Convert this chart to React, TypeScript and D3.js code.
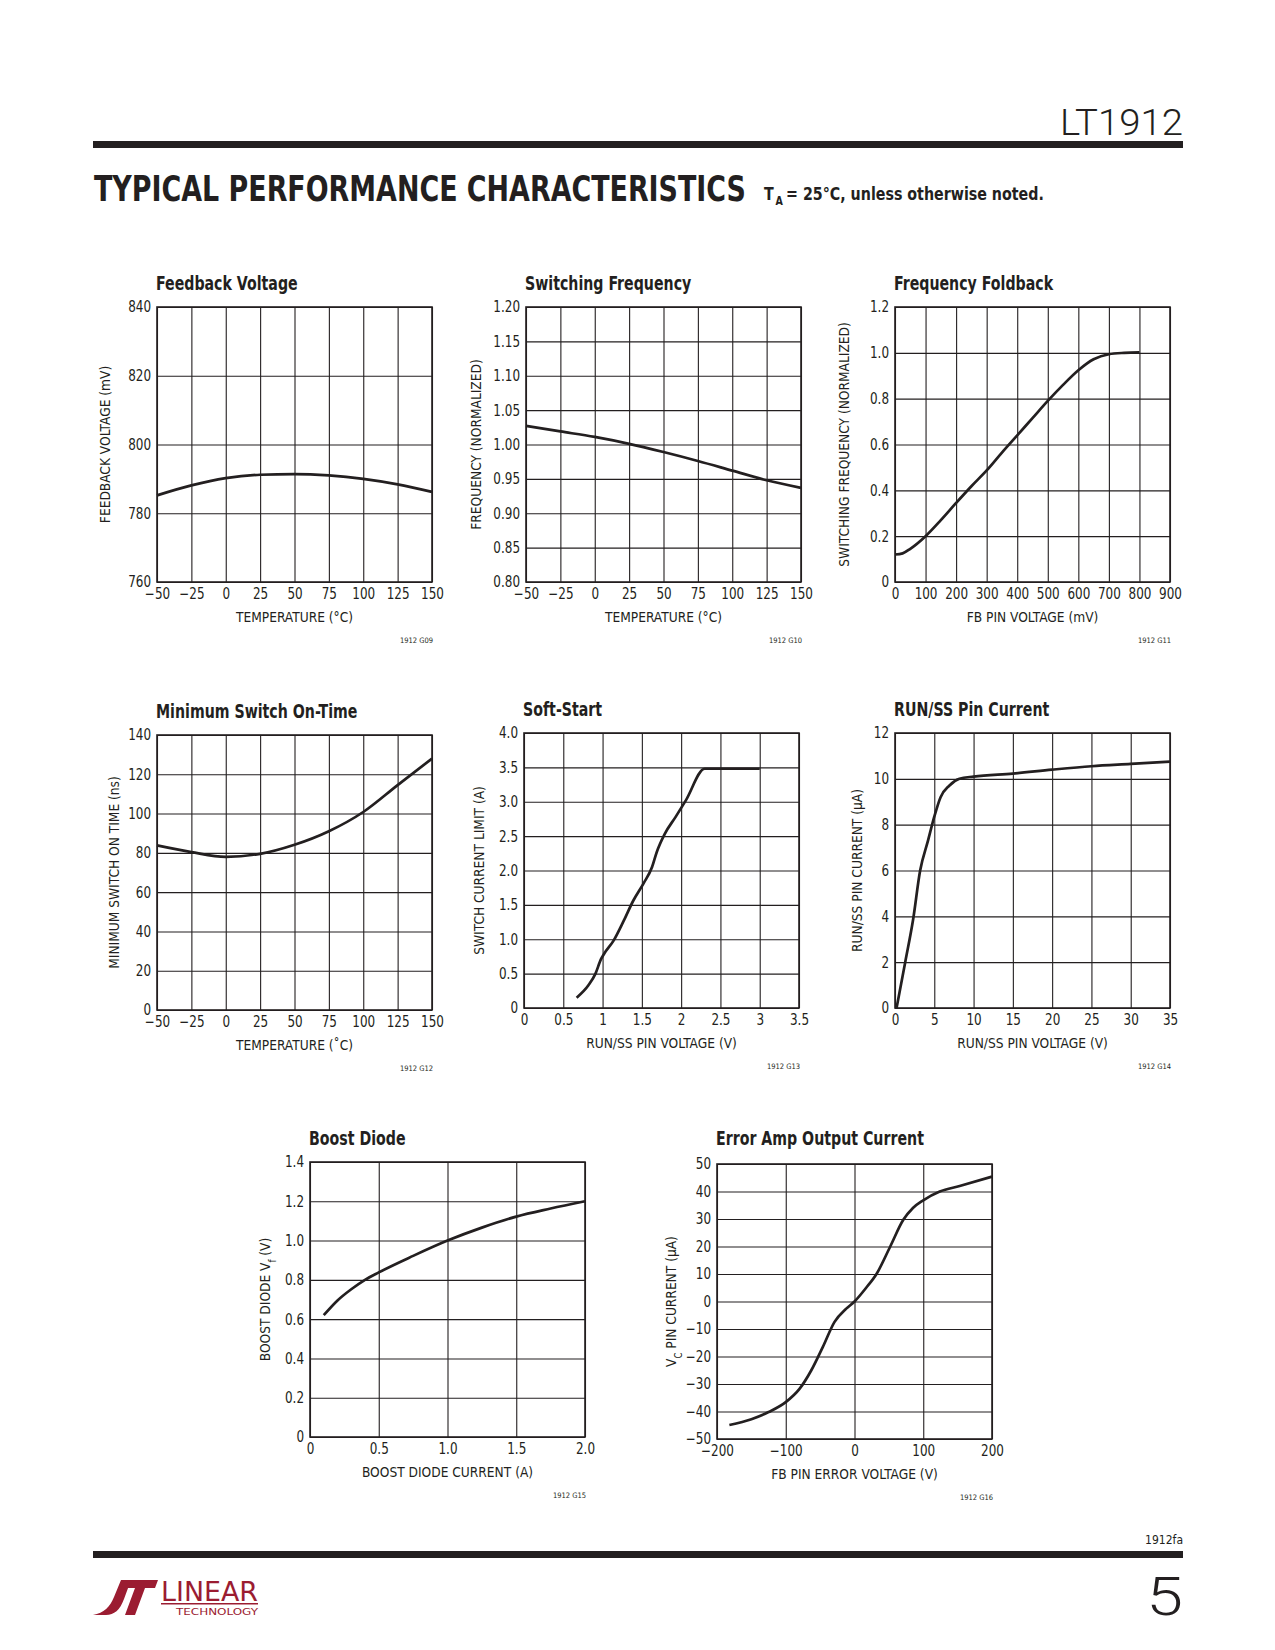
import { useEffect, useRef } from "react";
import * as d3 from "d3";

const W = 1275;
const H = 1650;
const ink = "#231f20";
const logoRed = "#9b1c31";
const narrow = "'Liberation Sans Narrow', 'DejaVu Sans Condensed', Roboto, sans-serif";

// ---- data ----
const tempTicks = [-50, -25, 0, 25, 50, 75, 100, 125, 150];

const fbTemp = [-50, -25, 0, 25, 50, 75, 100, 125, 150];
const fbVoltage = [785.2, 788.1, 790.2, 791.2, 791.4, 791.0, 790.0, 788.4, 786.2];
const fbTicks = [760, 780, 800, 820, 840];

const swTemp = [-50, -25, 0, 25, 50, 75, 100, 125, 150];
const swFreq = [1.027, 1.019, 1.011, 1.001, 0.989, 0.976, 0.962, 0.948, 0.937];
const swTicks = [0.8, 0.85, 0.9, 0.95, 1.0, 1.05, 1.1, 1.15, 1.2];

const foldVolt = [0, 25, 50, 100, 150, 200, 250, 300, 350, 400, 450, 500, 550, 600, 650, 700, 750, 800];
const foldFreq = [0.12, 0.125, 0.145, 0.2, 0.27, 0.345, 0.418, 0.487, 0.565, 0.64, 0.715, 0.79, 0.86, 0.924, 0.972, 0.994, 1.0, 1.002];
const foldXTicks = [0, 100, 200, 300, 400, 500, 600, 700, 800, 900];
const foldYTicks = [0, 0.2, 0.4, 0.6, 0.8, 1.0, 1.2];

const onTemp = [-50, -25, 0, 25, 50, 75, 100, 125, 150];
const onTime = [83.8, 80.4, 78.0, 79.5, 84.1, 91.0, 100.8, 114.5, 128];
const onTicks = [0, 20, 40, 60, 80, 100, 120, 140];

const ssVolt = [0.67, 0.82, 0.91, 0.98, 1.02, 1.14, 1.27, 1.39, 1.52, 1.63, 1.69, 1.79, 1.93, 2.06, 2.3, 3.0];
const ssLimit = [0.15, 0.33, 0.5, 0.71, 0.79, 0.98, 1.27, 1.56, 1.81, 2.05, 2.27, 2.53, 2.78, 3.02, 3.48, 3.48];
const ssXTicks = [0, 0.5, 1, 1.5, 2, 2.5, 3, 3.5];
const ssYTicks = [0, 0.5, 1, 1.5, 2, 2.5, 3, 3.5, 4];

const runVolt = [0.2, 1.3, 2.3, 3.2, 4.2, 5, 5.8, 6.9, 8.2, 10, 15, 20, 25, 30, 35];
const runCurr = [0, 2.0, 3.85, 6.0, 7.3, 8.35, 9.2, 9.7, 10.0, 10.1, 10.23, 10.4, 10.55, 10.65, 10.75];
const runXTicks = [0, 5, 10, 15, 20, 25, 30, 35];
const runYTicks = [0, 2, 4, 6, 8, 10, 12];

const diodeCurr = [0.1, 0.2, 0.3, 0.4, 0.5, 0.75, 1.0, 1.25, 1.5, 1.75, 2.0];
const diodeVf = [0.62, 0.695, 0.752, 0.8, 0.838, 0.922, 1.0, 1.066, 1.122, 1.163, 1.2];
const diodeXTicks = [0, 0.5, 1, 1.5, 2];
const diodeYTicks = [0, 0.2, 0.4, 0.6, 0.8, 1.0, 1.2, 1.4];

const eaVolt = [-182, -150, -125, -100, -80, -63, -46, -29, -12, 0, 17, 32, 52, 71, 85, 100, 124, 153, 200];
const eaCurr = [-44.9, -42.8, -40.2, -36.6, -31.8, -25.1, -16.5, -7.4, -2.6, 0, 5, 10, 20, 29.7, 34, 36.8, 40, 42, 45.4];
const eaXTicks = [-200, -100, 0, 100, 200];
const eaYTicks = [-50, -40, -30, -20, -10, 0, 10, 20, 30, 40, 50];

// ---- formatting ----
const minus = (s: string) => s.replace("-", "\u2212");
const fInt = (d: number) => minus(String(d));
const f1 = (d: number) => (d === 0 ? "0" : d3.format(".1f")(d));
const f2 = (d: number) => d3.format(".2f")(d);
const fPlain = (d: number) => String(d);

type Part = string | { sub: string };

interface Spec {
  title: string;
  titleY: number;
  left: number;
  top: number;
  xd: [number, number];
  yd: [number, number];
  xt: number[];
  yt: number[];
  xf: (d: number) => string;
  yf: (d: number) => string;
  xTitle: string;
  yTitle: Part[];
  yTitleDx: number;
  xs: number[];
  ys: number[];
  code: string;
}

const charts: Spec[] = [
  { title: "Feedback Voltage", titleY: 290, left: 157, top: 307, xd: [-50, 150], yd: [760, 840], xt: tempTicks, yt: fbTicks, xf: fInt, yf: fInt, xTitle: "TEMPERATURE (°C)", yTitle: ["FEEDBACK VOLTAGE (mV)"], yTitleDx: -52, xs: fbTemp, ys: fbVoltage, code: "1912 G09" },
  { title: "Switching Frequency", titleY: 290, left: 526, top: 307, xd: [-50, 150], yd: [0.8, 1.2], xt: tempTicks, yt: swTicks, xf: fInt, yf: f2, xTitle: "TEMPERATURE (°C)", yTitle: ["FREQUENCY (NORMALIZED)"], yTitleDx: -50, xs: swTemp, ys: swFreq, code: "1912 G10" },
  { title: "Frequency Foldback", titleY: 290, left: 895, top: 307, xd: [0, 900], yd: [0, 1.2], xt: foldXTicks, yt: foldYTicks, xf: fPlain, yf: f1, xTitle: "FB PIN VOLTAGE (mV)", yTitle: ["SWITCHING FREQUENCY (NORMALIZED)"], yTitleDx: -51, xs: foldVolt, ys: foldFreq, code: "1912 G11" },
  { title: "Minimum Switch On-Time", titleY: 718, left: 157, top: 735, xd: [-50, 150], yd: [0, 140], xt: tempTicks, yt: onTicks, xf: fInt, yf: fInt, xTitle: "TEMPERATURE (˚C)", yTitle: ["MINIMUM SWITCH ON TIME (ns)"], yTitleDx: -43, xs: onTemp, ys: onTime, code: "1912 G12" },
  { title: "Soft-Start", titleY: 716, left: 524, top: 733, xd: [0, 3.5], yd: [0, 4], xt: ssXTicks, yt: ssYTicks, xf: fPlain, yf: f1, xTitle: "RUN/SS PIN VOLTAGE (V)", yTitle: ["SWITCH CURRENT LIMIT (A)"], yTitleDx: -45, xs: ssVolt, ys: ssLimit, code: "1912 G13" },
  { title: "RUN/SS Pin Current", titleY: 716, left: 895, top: 733, xd: [0, 35], yd: [0, 12], xt: runXTicks, yt: runYTicks, xf: fPlain, yf: fPlain, xTitle: "RUN/SS PIN VOLTAGE (V)", yTitle: ["RUN/SS PIN CURRENT (µA)"], yTitleDx: -38, xs: runVolt, ys: runCurr, code: "1912 G14" },
  { title: "Boost Diode", titleY: 1145, left: 310, top: 1162, xd: [0, 2], yd: [0, 1.4], xt: diodeXTicks, yt: diodeYTicks, xf: f1, yf: f1, xTitle: "BOOST DIODE CURRENT (A)", yTitle: ["BOOST DIODE V", { sub: "f" }, " (V)"], yTitleDx: -45, xs: diodeCurr, ys: diodeVf, code: "1912 G15" },
  { title: "Error Amp Output Current", titleY: 1145, left: 717, top: 1164, xd: [-200, 200], yd: [-50, 50], xt: eaXTicks, yt: eaYTicks, xf: fInt, yf: fInt, xTitle: "FB PIN ERROR VOLTAGE (V)", yTitle: ["V", { sub: "C" }, " PIN CURRENT (µA)"], yTitleDx: -46, xs: eaVolt, ys: eaCurr, code: "1912 G16" },
];

const pw = 275;
const ph = 275;
// the available condensed face is wider than the datasheet's, so squeeze it
const tickSx = 0.86;
const titleSx = 0.83;
const labelSx = 0.94;

export default function App() {
  const ref = useRef<SVGSVGElement | null>(null);

  useEffect(() => {
    if (!ref.current) return;
    const svg = d3.select(ref.current);
    svg.selectAll("*").remove();

    svg.append("rect").attr("width", W).attr("height", H).attr("fill", "white");

    // header
    svg.append("text")
      .attr("x", 1183).attr("y", 135)
      .attr("text-anchor", "end")
      .attr("font-family", "Roboto, 'Liberation Sans', sans-serif")
      .attr("font-weight", 300)
      .attr("font-size", 37)
      .attr("textLength", 123).attr("lengthAdjust", "spacingAndGlyphs")
      .attr("fill", ink)
      .text("LT1912");
    svg.append("rect").attr("x", 93).attr("y", 141).attr("width", 1090).attr("height", 7).attr("fill", ink);

    // smaller face stretched upward, so its natural width already ends before the note
    svg.append("text")
      .attr("transform", "translate(94,201) scale(1,1.17)")
      .attr("font-family", "'DejaVu Sans Condensed', 'DejaVu Sans', sans-serif")
      .attr("font-weight", "bold")
      .attr("font-size", 30)
      .attr("textLength", 652).attr("lengthAdjust", "spacingAndGlyphs")
      .attr("fill", ink)
      .text("TYPICAL PERFORMANCE CHARACTERISTICS");

    // T_A note, split into separate pieces so the subscript sits clear of the T
    const note = svg.append("g")
      .attr("transform", "translate(764,200) scale(0.88,1)")
      .attr("font-family", narrow)
      .attr("font-weight", "bold")
      .attr("fill", ink);
    note.append("text").attr("x", 0).attr("y", 0).attr("font-size", 18).text("T");
    note.append("text").attr("x", 13).attr("y", 5).attr("font-size", 12).text("A");
    note.append("text").attr("x", 25).attr("y", 0).attr("font-size", 18).text("= 25°C, unless otherwise noted.");

    // charts
    charts.forEach((c) => {
      const g = svg.append("g").attr("transform", `translate(${c.left},${c.top})`);
      const x = d3.scaleLinear().domain(c.xd).range([0, pw]);
      const y = d3.scaleLinear().domain(c.yd).range([ph, 0]);

      g.append("text")
        .attr("transform", `translate(-1,${c.titleY - c.top}) scale(${titleSx},1)`)
        .attr("font-family", narrow)
        .attr("font-weight", "bold")
        .attr("font-size", 19)
        .attr("fill", ink)
        .text(c.title);

      const pad = 6;
      const xAxis = d3.axisBottom(x).tickValues(c.xt).tickFormat((d) => c.xf(+d))
        .tickSizeInner(-ph).tickSizeOuter(0).tickPadding(pad);
      const yAxis = d3.axisLeft(y).tickValues(c.yt).tickFormat((d) => c.yf(+d))
        .tickSizeInner(-pw).tickSizeOuter(0).tickPadding(pad);

      const xg = g.append("g").attr("transform", `translate(0,${ph})`).call(xAxis);
      const yg = g.append("g").call(yAxis);
      [xg, yg].forEach((a) => {
        a.select(".domain").remove();
        a.attr("font-family", narrow).attr("font-size", 15.5);
        a.selectAll("line").attr("stroke", ink).attr("stroke-width", 1.1);
        a.selectAll("text").attr("fill", ink).attr("transform", `scale(${tickSx},1)`);
      });
      yg.selectAll("text").attr("x", -pad / tickSx);

      g.append("rect")
        .attr("width", pw).attr("height", ph)
        .attr("fill", "none").attr("stroke", ink).attr("stroke-width", 1.6);

      const line = d3.line<number>()
        .x((_, i) => x(c.xs[i]))
        .y((d) => y(d))
        .curve(d3.curveMonotoneX);
      g.append("path")
        .attr("d", line(c.ys))
        .attr("fill", "none")
        .attr("stroke", ink)
        .attr("stroke-width", 2.7)
        .attr("stroke-linejoin", "round");

      g.append("text")
        .attr("transform", `translate(${pw / 2},${ph + 40}) scale(${labelSx},1)`)
        .attr("text-anchor", "middle")
        .attr("font-family", narrow)
        .attr("font-size", 14.5)
        .attr("fill", ink)
        .text(c.xTitle);

      const yt = g.append("text")
        .attr("transform", `translate(${c.yTitleDx},${ph / 2}) rotate(-90) scale(${labelSx},1)`)
        .attr("text-anchor", "middle")
        .attr("dy", "0.35em")
        .attr("font-family", narrow)
        .attr("font-size", 14.5)
        .attr("fill", ink);
      c.yTitle.forEach((p) => {
        if (typeof p === "string") yt.append("tspan").text(p);
        else yt.append("tspan").attr("font-size", 10).attr("baseline-shift", "sub").text(p.sub);
      });

      g.append("text")
        .attr("x", pw + 1).attr("y", ph + 61)
        .attr("text-anchor", "end")
        .attr("font-family", narrow)
        .attr("font-size", 7.5)
        .attr("fill", ink)
        .text(c.code);
    });

    // footer
    svg.append("text")
      .attr("x", 1183).attr("y", 1544)
      .attr("text-anchor", "end")
      .attr("font-family", narrow)
      .attr("font-size", 12)
      .attr("fill", ink)
      .text("1912fa");
    svg.append("rect").attr("x", 93).attr("y", 1551).attr("width", 1090).attr("height", 7).attr("fill", ink);
    svg.append("text")
      .attr("transform", "translate(1183,1615) scale(1.25,1)")
      .attr("text-anchor", "end")
      .attr("font-family", "Roboto, 'Liberation Sans', sans-serif")
      .attr("font-weight", 300)
      .attr("font-size", 53)
      .attr("fill", ink)
      .text("5");

    // logo
    const logo = svg.append("g").attr("fill", logoRed);
    logo.append("path")
      .attr("d", "M93,1615 C104,1613 110,1607 114,1597 L121,1580 L131,1580 L124,1599 C120,1610 114,1615 106,1615 Z");
    logo.append("path")
      .attr("d", "M124,1580 L158,1580 L155,1588 L145,1588 L135,1615 L125,1615 L135,1588 L121,1588 Z");
    logo.append("text")
      .attr("x", 161).attr("y", 1601)
      .attr("font-family", narrow)
      .attr("font-size", 26)
      .attr("textLength", 97).attr("lengthAdjust", "spacingAndGlyphs")
      .text("LINEAR");
    logo.append("rect").attr("x", 161).attr("y", 1603).attr("width", 97).attr("height", 1.5);
    logo.append("text")
      .attr("x", 176).attr("y", 1615)
      .attr("font-family", narrow)
      .attr("font-size", 9)
      .attr("textLength", 82).attr("lengthAdjust", "spacingAndGlyphs")
      .text("TECHNOLOGY");
  }, []);

  return (
    <svg
      ref={ref}
      width={W}
      height={H}
      style={{ display: "block", position: "absolute", left: 0, top: 0 }}
    />
  );
}
